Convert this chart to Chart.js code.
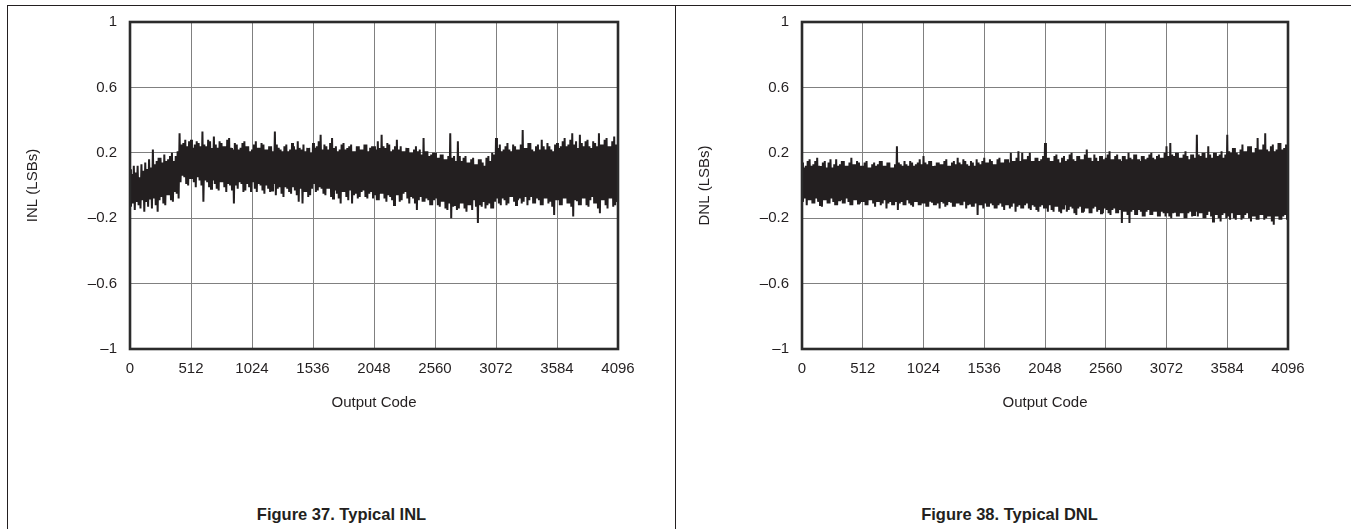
<!DOCTYPE html>
<html><head><meta charset="utf-8">
<script src="https://cdn.jsdelivr.net/npm/chart.js@4/dist/chart.umd.min.js"></script>
<style>
html,body{margin:0;padding:0;background:#fff;}
body{width:1351px;height:529px;position:relative;overflow:hidden;font-family:"Liberation Sans",Arial,sans-serif;}
.rule{position:absolute;background:#231f20;}
.cap{position:absolute;font-weight:bold;font-size:16.5px;line-height:18px;color:#231f20;text-align:center;}
canvas{position:absolute;top:0;}
</style></head><body>
<div class="rule" style="left:7px;top:5px;width:1344px;height:1px"></div>
<div class="rule" style="left:7px;top:5px;width:1px;height:524px"></div>
<div class="rule" style="left:675px;top:5px;width:1px;height:524px"></div>
<canvas id="c1" width="675" height="440" style="left:0"></canvas>
<canvas id="c2" width="676" height="440" style="left:675px"></canvas>
<div class="cap" style="left:8px;width:667px;top:505px">Figure 37. Typical INL</div>
<div class="cap" style="left:676px;width:667px;top:505px">Figure 38. Typical DNL</div>
<script>
// ---- data (one sample every 8 output codes) ----
const CODE_STEP = 8;
const X_TICKS = [0, 512, 1024, 1536, 2048, 2560, 3072, 3584, 4096];
const Y_TICKS = [-1, -0.6, -0.2, 0.2, 0.6, 1];
const Y_TICK_LABELS = ['–1', '–0.6', '–0.2', '0.2', '0.6', '1'];
const X_TITLE = 'Output Code';

const INL = [
 0.10,-0.13,0.07,-0.11, 0.12,-0.15,0.08,-0.10, 0.12,-0.12,0.05,-0.14, 0.13,-0.09,0.09,-0.16, 0.14,-0.10,0.10,-0.13, 0.16,-0.08,0.11,-0.14, 0.22,-0.08,0.13,-0.12, 0.15,-0.16,0.17,-0.09,
 0.17,-0.07,0.14,-0.11, 0.19,-0.12,0.15,-0.06, 0.16,-0.06,0.18,-0.09, 0.20,-0.10,0.15,-0.04, 0.18,-0.05,0.21,-0.08, 0.32,0.02,0.25,0.06, 0.26,0.05,0.28,0.01, 0.24,0.00,0.27,0.04,
 0.28,0.04,0.23,0.02, 0.25,-0.01,0.27,0.05, 0.26,0.03,0.24,0.00, 0.33,-0.10,0.25,0.03, 0.24,0.02,0.28,-0.01, 0.27,-0.02,0.23,0.03, 0.30,0.01,0.25,-0.02, 0.23,-0.03,0.27,0.02,
 0.26,0.02,0.24,-0.01, 0.24,-0.04,0.28,0.01, 0.29,0.00,0.23,-0.03, 0.22,-0.11,0.26,0.00, 0.25,-0.02,0.22,0.02, 0.23,0.01,0.26,-0.04, 0.27,-0.03,0.24,0.01, 0.24,-0.01,0.21,-0.04,
 0.22,0.02,0.25,-0.02, 0.27,-0.04,0.23,0.01, 0.23,0.00,0.26,-0.03, 0.25,-0.05,0.22,0.00, 0.22,-0.02,0.24,-0.04, 0.24,-0.03,0.21,0.01, 0.33,-0.06,0.25,-0.02, 0.23,-0.01,0.22,-0.05,
 0.21,-0.07,0.24,-0.01, 0.25,-0.02,0.21,-0.04, 0.22,-0.05,0.26,-0.01, 0.24,-0.03,0.22,-0.06, 0.27,-0.10,0.23,-0.02, 0.22,-0.11,0.25,-0.04, 0.21,-0.04,0.23,-0.07, 0.23,-0.06,0.20,-0.02,
 0.26,0.01,0.23,-0.04, 0.24,-0.03,0.27,-0.01, 0.31,-0.02,0.22,-0.05, 0.25,-0.06,0.24,-0.02, 0.22,-0.02,0.26,-0.07, 0.29,-0.08,0.23,-0.03, 0.24,-0.05,0.21,-0.08, 0.22,-0.11,0.25,-0.04,
 0.26,-0.04,0.22,-0.07, 0.23,-0.09,0.24,-0.03, 0.25,-0.11,0.21,-0.06, 0.21,-0.05,0.24,-0.08, 0.24,-0.07,0.22,-0.04, 0.22,-0.03,0.25,-0.07, 0.25,-0.08,0.21,-0.05, 0.23,-0.04,0.24,-0.08,
 0.24,-0.06,0.22,-0.09, 0.27,-0.09,0.23,-0.05, 0.31,-0.05,0.24,-0.08, 0.23,-0.10,0.26,-0.06, 0.25,-0.07,0.21,-0.09, 0.22,-0.12,0.24,-0.06, 0.28,-0.06,0.22,-0.10, 0.24,-0.09,0.21,-0.05,
 0.21,-0.04,0.23,-0.08, 0.23,-0.11,0.20,-0.07, 0.20,-0.08,0.22,-0.11, 0.24,-0.15,0.21,-0.09, 0.22,-0.07,0.19,-0.10, 0.29,-0.10,0.21,-0.08, 0.21,-0.09,0.18,-0.12, 0.19,-0.12,0.20,-0.09,
 0.20,-0.08,0.17,-0.12, 0.17,-0.13,0.19,-0.10, 0.19,-0.10,0.16,-0.14, 0.16,-0.15,0.18,-0.11, 0.32,-0.20,0.17,-0.13, 0.18,-0.12,0.15,-0.15, 0.27,-0.14,0.18,-0.11, 0.15,-0.11,0.17,-0.14,
 0.18,-0.16,0.14,-0.12, 0.14,-0.12,0.16,-0.15, 0.17,-0.09,0.13,-0.13, 0.13,-0.23,0.16,-0.12, 0.16,-0.13,0.14,-0.10, 0.12,-0.14,0.17,-0.12, 0.18,-0.11,0.15,-0.14, 0.20,-0.14,0.19,-0.10,
 0.29,-0.08,0.23,-0.11, 0.25,-0.12,0.21,-0.08, 0.22,-0.09,0.24,-0.12, 0.26,-0.11,0.22,-0.07, 0.21,-0.07,0.25,-0.10, 0.24,-0.12,0.22,-0.09, 0.22,-0.08,0.25,-0.11, 0.34,-0.10,0.23,-0.07,
 0.23,-0.12,0.26,-0.09, 0.26,-0.07,0.22,-0.11, 0.21,-0.11,0.24,-0.08, 0.25,-0.09,0.22,-0.12, 0.28,-0.12,0.24,-0.08, 0.22,-0.08,0.26,-0.11, 0.24,-0.10,0.22,-0.13, 0.21,-0.18,0.25,-0.09,
 0.26,-0.09,0.23,-0.12, 0.24,-0.12,0.27,-0.08, 0.29,-0.08,0.24,-0.11, 0.25,-0.11,0.28,-0.13, 0.32,-0.19,0.25,-0.09, 0.27,-0.09,0.23,-0.12, 0.31,-0.12,0.26,-0.08, 0.24,-0.08,0.27,-0.12,
 0.28,-0.13,0.24,-0.09, 0.23,-0.07,0.27,-0.11, 0.26,-0.11,0.24,-0.14, 0.32,-0.17,0.25,-0.09, 0.25,-0.09,0.28,-0.12, 0.29,-0.14,0.24,-0.08, 0.24,-0.08,0.27,-0.13, 0.30,-0.12,0.25,-0.10,
 0.10
];

const DNL = [
 0.14,-0.10,0.11,-0.08, 0.12,-0.12,0.15,-0.09, 0.16,-0.09,0.12,-0.11, 0.13,-0.11,0.15,-0.08, 0.17,-0.10,0.12,-0.12, 0.12,-0.13,0.14,-0.09, 0.15,-0.09,0.11,-0.11, 0.14,-0.11,0.16,-0.08,
 0.11,-0.10,0.13,-0.12, 0.16,-0.12,0.12,-0.09, 0.13,-0.09,0.15,-0.11, 0.15,-0.11,0.12,-0.08, 0.12,-0.10,0.14,-0.12, 0.17,-0.12,0.13,-0.09, 0.13,-0.09,0.15,-0.11, 0.14,-0.11,0.12,-0.10,
 0.12,-0.10,0.14,-0.12, 0.15,-0.12,0.11,-0.09, 0.11,-0.09,0.13,-0.11, 0.14,-0.13,0.12,-0.10, 0.13,-0.10,0.15,-0.12, 0.15,-0.11,0.12,-0.09, 0.12,-0.14,0.14,-0.11, 0.14,-0.10,0.11,-0.12,
 0.11,-0.12,0.13,-0.10, 0.24,-0.15,0.14,-0.11, 0.13,-0.10,0.12,-0.12, 0.15,-0.12,0.13,-0.09, 0.12,-0.11,0.15,-0.12, 0.14,-0.13,0.12,-0.10, 0.13,-0.10,0.14,-0.12, 0.16,-0.12,0.13,-0.11,
 0.18,-0.11,0.14,-0.13, 0.13,-0.13,0.15,-0.10, 0.15,-0.10,0.12,-0.12, 0.12,-0.12,0.14,-0.11, 0.14,-0.14,0.13,-0.10, 0.13,-0.11,0.15,-0.13, 0.16,-0.12,0.12,-0.10, 0.12,-0.10,0.14,-0.13,
 0.15,-0.13,0.13,-0.11, 0.17,-0.11,0.14,-0.12, 0.13,-0.12,0.16,-0.10, 0.15,-0.14,0.13,-0.12, 0.12,-0.11,0.15,-0.13, 0.14,-0.13,0.12,-0.11, 0.16,-0.18,0.14,-0.12, 0.13,-0.12,0.15,-0.14,
 0.17,-0.11,0.14,-0.13, 0.14,-0.13,0.16,-0.11, 0.15,-0.12,0.13,-0.14, 0.13,-0.14,0.16,-0.12, 0.17,-0.11,0.14,-0.13, 0.14,-0.15,0.16,-0.12, 0.16,-0.12,0.14,-0.14, 0.20,-0.13,0.15,-0.11,
 0.15,-0.16,0.17,-0.13, 0.21,-0.12,0.15,-0.14, 0.20,-0.14,0.16,-0.12, 0.16,-0.11,0.18,-0.14, 0.20,-0.15,0.15,-0.12, 0.15,-0.13,0.17,-0.15, 0.17,-0.16,0.15,-0.13, 0.16,-0.12,0.18,-0.14,
 0.26,-0.14,0.17,-0.16, 0.17,-0.12,0.15,-0.15, 0.15,-0.16,0.18,-0.13, 0.19,-0.13,0.16,-0.16, 0.14,-0.17,0.17,-0.14, 0.18,-0.12,0.15,-0.16, 0.16,-0.15,0.19,-0.13, 0.20,-0.14,0.16,-0.17,
 0.15,-0.18,0.18,-0.14, 0.18,-0.13,0.16,-0.16, 0.16,-0.16,0.19,-0.14, 0.22,-0.14,0.17,-0.17, 0.17,-0.17,0.15,-0.14, 0.19,-0.13,0.17,-0.16, 0.15,-0.15,0.18,-0.17, 0.18,-0.17,0.16,-0.14,
 0.17,-0.15,0.19,-0.17, 0.21,-0.18,0.16,-0.15, 0.16,-0.14,0.18,-0.17, 0.19,-0.17,0.16,-0.15, 0.15,-0.23,0.18,-0.16, 0.18,-0.16,0.16,-0.18, 0.20,-0.23,0.17,-0.16, 0.16,-0.15,0.19,-0.18,
 0.19,-0.18,0.16,-0.15, 0.15,-0.16,0.18,-0.19, 0.18,-0.19,0.16,-0.16, 0.17,-0.15,0.19,-0.18, 0.20,-0.18,0.17,-0.16, 0.16,-0.16,0.18,-0.19, 0.19,-0.19,0.17,-0.16, 0.17,-0.17,0.20,-0.19,
 0.24,-0.17,0.18,-0.19, 0.26,-0.20,0.19,-0.17, 0.18,-0.16,0.20,-0.19, 0.20,-0.19,0.17,-0.17, 0.17,-0.17,0.19,-0.20, 0.21,-0.20,0.18,-0.17, 0.16,-0.16,0.19,-0.19, 0.19,-0.18,0.17,-0.16,
 0.31,-0.19,0.19,-0.17, 0.18,-0.17,0.20,-0.20, 0.20,-0.20,0.17,-0.18, 0.24,-0.16,0.19,-0.19, 0.17,-0.22,0.20,-0.18, 0.20,-0.18,0.18,-0.20, 0.19,-0.22,0.21,-0.18, 0.17,-0.17,0.19,-0.20,
 0.31,-0.19,0.21,-0.21, 0.20,-0.17,0.23,-0.20, 0.23,-0.21,0.20,-0.18, 0.19,-0.18,0.22,-0.21, 0.25,-0.20,0.21,-0.18, 0.21,-0.17,0.24,-0.20, 0.24,-0.22,0.20,-0.19, 0.20,-0.19,0.23,-0.21,
 0.29,-0.21,0.22,-0.18, 0.22,-0.18,0.25,-0.21, 0.32,-0.20,0.22,-0.19, 0.21,-0.19,0.24,-0.22, 0.25,-0.24,0.21,-0.19, 0.22,-0.19,0.26,-0.21, 0.26,-0.21,0.22,-0.19, 0.23,-0.18,0.25,-0.21,
 0.05
];

// ---- chart construction ----
const INK = '#231f20';
const FONT = '"Liberation Sans", Arial, sans-serif';

const boxPlugin = {
  id: 'plotBox',
  afterDraw(chart) {
    const a = chart.chartArea, ctx = chart.ctx;
    ctx.save();
    ctx.strokeStyle = '#2b2b2b';
    ctx.lineWidth = 2.6;
    ctx.strokeRect(a.left, a.top, a.right - a.left, a.bottom - a.top);
    ctx.restore();
  }
};

function makeChart(id, values, yTitle, axisWidth, padRight, yTitlePad) {
  const pts = values.map((v, i) => ({ x: i * CODE_STEP, y: v }));
  return new Chart(document.getElementById(id), {
    type: 'line',
    data: { datasets: [{ data: pts, borderColor: INK, borderWidth: 2, pointRadius: 0, tension: 0, fill: false }] },
    options: {
      responsive: false, animation: false, devicePixelRatio: 1,
      layout: { padding: { top: 19, right: padRight, left: 0, bottom: 0 } },
      plugins: { legend: { display: false }, tooltip: { enabled: false } },
      scales: {
        x: {
          type: 'linear', min: 0, max: 4096,
          afterBuildTicks: s => { s.ticks = X_TICKS.map(v => ({ value: v })); },
          afterFit: s => { s.height = 91; },
          ticks: { color: INK, font: { family: FONT, size: 15 }, padding: 11, maxRotation: 0, autoSkip: false, callback: v => String(v) },
          grid: { color: '#808080', lineWidth: 1, drawTicks: false },
          border: { display: false },
          title: { display: true, text: X_TITLE, color: INK, font: { family: FONT, size: 15 }, padding: { top: 4, bottom: 28 } }
        },
        y: {
          type: 'linear', min: -1, max: 1,
          afterBuildTicks: s => { s.ticks = Y_TICKS.map(v => ({ value: v })); },
          afterFit: s => { s.width = axisWidth; },
          ticks: { color: INK, font: { family: FONT, size: 15 }, padding: 13, autoSkip: false,
                   callback: (v) => Y_TICK_LABELS[Y_TICKS.findIndex(t => Math.abs(t - v) < 1e-6)] },
          grid: { color: '#808080', lineWidth: 1, drawTicks: false },
          border: { display: false },
          title: { display: true, text: yTitle, color: INK, font: { family: FONT, size: 15 }, padding: { top: yTitlePad, bottom: 4 } }
        }
      }
    },
    plugins: [boxPlugin]
  });
}

makeChart('c1', INL, 'INL (LSBs)', 130, 57, 24);
makeChart('c2', DNL, 'DNL (LSBs)', 127, 63, 21);
</script>
</body></html>
